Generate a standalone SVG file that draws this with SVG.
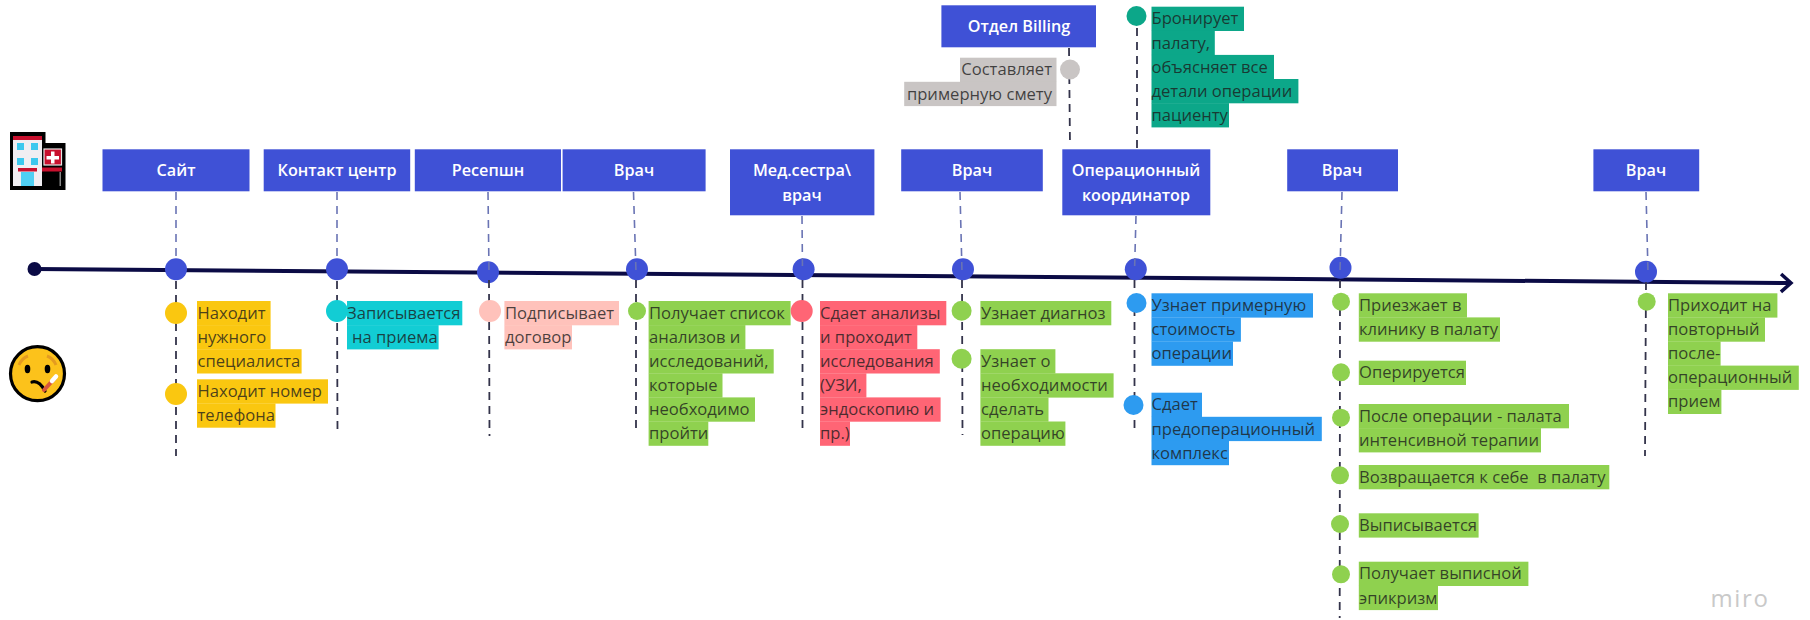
<svg xmlns="http://www.w3.org/2000/svg" width="1810" height="620" viewBox="0 0 1810 620">
<style>
text{font-family:"Open Sans","Noto Sans","Liberation Sans",sans-serif}
.box{fill:#3f51d6}
.bt{fill:#fff;font-size:16.200px;font-weight:600;text-anchor:middle}
.t{font-size:16.600px;fill:#1c1c1c;fill-opacity:.8}
.up{fill:none;stroke:#6a74b4;stroke-width:1.600;stroke-dasharray:8 6}
.dn{fill:none;stroke:#33334a;stroke-width:1.800;stroke-dasharray:8 6}
.hub{fill:#3f51d6}
.y{fill:#fac710}.c{fill:#12cdd4}.p{fill:#ffc2bb}.g{fill:#8fd14f}.r{fill:#ff6575}.b{fill:#2d9bf0}.e{fill:#0ca789}.s{fill:#c9c5c4}
</style>
<defs>
<marker id="arrow" markerUnits="userSpaceOnUse" markerWidth="16" markerHeight="22" refX="13" refY="11" orient="auto"><path d="M3 2L13 11L3 20" fill="none" stroke="#0b0b45" stroke-width="3.500"/></marker>
</defs>

<g id="icon-hospital">
<path d="M10 132H45.500V143H65.500V190H10Z" fill="#000"/>
<rect x="13" y="136" width="29" height="50" fill="#f0eef2"/>
<rect x="13" y="136" width="29" height="4" fill="#c8102e"/>
<rect x="17" y="143" width="7" height="7" fill="#3cc8ee"/><rect x="31" y="143" width="7" height="7" fill="#3cc8ee"/>
<rect x="17" y="158" width="7" height="7" fill="#3cc8ee"/><rect x="31" y="158" width="7" height="7" fill="#3cc8ee"/>
<rect x="18" y="168" width="19" height="3.500" fill="#c8102e"/>
<rect x="21" y="172" width="13" height="14" fill="#4fd0f4"/>
<rect x="44" y="149" width="17.500" height="16" fill="#c8102e" stroke="#e8e8e8" stroke-width="1.200"/>
<path d="M51 151.500h3.500v4.500h4.500v3.500h-4.500v4h-3.500v-4h-4.500v-3.500h4.500z" fill="#fff"/>
<rect x="42" y="167.500" width="20" height="4" fill="#c8102e"/>
<rect x="59.500" y="172" width="1.500" height="14" fill="#888"/>
</g>

<g id="icon-patient">
<circle cx="37.500" cy="373.700" r="27" fill="#fcc21b" stroke="#000" stroke-width="3.200"/>
<path d="M19 365Q22 358 28 356M56 365Q53 358 47 356" fill="none" stroke="#e49b20" stroke-width="3"/>
<ellipse cx="27.500" cy="369" rx="2.800" ry="4.200" fill="#000"/>
<ellipse cx="47.500" cy="369" rx="2.800" ry="4.200" fill="#000"/>
<path d="M32 382Q39 380 45 391" fill="none" stroke="#000" stroke-width="3.200" stroke-linecap="round"/>
<path d="M44 390L55 378" stroke="#d9573c" stroke-width="4" stroke-linecap="round"/>
<path d="M52 381L56 376.500" stroke="#fff" stroke-width="4.500" stroke-linecap="round"/>
</g>

<g id="timeline">
<line x1="35" y1="269" x2="1791" y2="283" stroke="#0b0b45" stroke-width="4" marker-end="url(#arrow)"/>
<circle cx="34.500" cy="269" r="7" fill="#0b0b45"/>
</g>

<g id="hubs">
<circle class="hub" cx="176" cy="269.300" r="11"/>
<circle class="hub" cx="337" cy="269.300" r="11"/>
<circle class="hub" cx="488" cy="272.300" r="11"/>
<circle class="hub" cx="637" cy="269.300" r="11"/>
<circle class="hub" cx="803.600" cy="269.300" r="11"/>
<circle class="hub" cx="963" cy="269.300" r="11"/>
<circle class="hub" cx="1135.800" cy="269.300" r="11"/>
<circle class="hub" cx="1340.500" cy="267.700" r="11"/>
<circle class="hub" cx="1646" cy="271.700" r="11"/>
</g>

<g id="connectors">
<line class="up" x1="176" y1="192" x2="176" y2="258"/>
<line class="up" x1="337" y1="192" x2="337" y2="258"/>
<line class="up" x1="488" y1="192" x2="489" y2="272"/>
<line class="up" x1="633.500" y1="192" x2="636" y2="272"/>
<line class="up" x1="802" y1="216" x2="802.500" y2="272"/>
<line class="up" x1="960" y1="192" x2="962" y2="272"/>
<line class="up" x1="1136" y1="216" x2="1134.500" y2="272"/>
<line class="up" x1="1342" y1="192" x2="1340" y2="272"/>
<line class="up" x1="1646" y1="192" x2="1648" y2="272"/>
<line class="dn" x1="176" y1="281" x2="176" y2="456"/>
<line class="dn" x1="337" y1="281" x2="337.500" y2="434"/>
<line class="dn" x1="489" y1="280" x2="489.500" y2="436"/>
<line class="dn" x1="636" y1="280" x2="636" y2="433"/>
<line class="dn" x1="802.500" y1="280" x2="802.500" y2="433"/>
<line class="dn" x1="962" y1="280" x2="962.500" y2="435"/>
<line class="dn" x1="1134.500" y1="280" x2="1134.500" y2="433"/>
<line class="dn" x1="1340" y1="280" x2="1339.700" y2="618"/>
<line class="dn" x1="1646" y1="282" x2="1645" y2="456"/>
<line class="dn" x1="1069" y1="48" x2="1070" y2="146"/>
<line class="dn" x1="1137" y1="28" x2="1137" y2="153"/>
</g>

<g id="role-site"><rect class="box" x="102.500" y="149.300" width="147" height="42"/><text class="bt" x="176" y="176">Сайт</text></g>
<g id="role-contact"><rect class="box" x="263.700" y="149.300" width="146.500" height="42"/><text class="bt" x="337" y="176">Контакт центр</text></g>
<g id="role-reception"><rect class="box" x="414.800" y="149.300" width="146.200" height="42"/><text class="bt" x="488" y="176">Ресепшн</text></g>
<g id="role-doctor-1"><rect class="box" x="562.600" y="149.300" width="143" height="42"/><text class="bt" x="634" y="176">Врач</text></g>
<g id="role-nurse"><rect class="box" x="730" y="149.300" width="144.400" height="66"/><text class="bt" x="802" y="176"><tspan x="802">Мед.сестра\</tspan><tspan x="802" dy="24.500">врач</tspan></text></g>
<g id="role-doctor-2"><rect class="box" x="901.200" y="149.300" width="141.600" height="42"/><text class="bt" x="972" y="176">Врач</text></g>
<g id="role-coordinator"><rect class="box" x="1062.300" y="149.300" width="148" height="66"/><text class="bt" x="1136" y="176"><tspan x="1136">Операционный</tspan><tspan x="1136" dy="24.500">координатор</tspan></text></g>
<g id="role-doctor-3"><rect class="box" x="1287.200" y="149.300" width="110.800" height="42"/><text class="bt" x="1342" y="176">Врач</text></g>
<g id="role-doctor-4"><rect class="box" x="1593.400" y="149.300" width="105.800" height="42"/><text class="bt" x="1646" y="176">Врач</text></g>
<g id="role-billing"><rect class="box" x="941.400" y="5.300" width="154.600" height="42"/><text class="bt" x="1019" y="32">Отдел Billing</text></g>

<g id="step-find-specialist"><circle class="y" cx="176" cy="313" r="11"/>
<rect class="y" x="197" y="301" width="73.600" height="24.300"/><rect class="y" x="197" y="325.100" width="73.600" height="24.300"/><rect class="y" x="197" y="349.200" width="104.600" height="24.300"/>
<text class="t" y="318.700"><tspan x="197.500">Находит</tspan><tspan x="197.500" dy="24.100">нужного</tspan><tspan x="197.500" dy="24.100">специалиста</tspan></text></g>
<g id="step-find-phone"><circle class="y" cx="176" cy="394" r="11"/>
<rect class="y" x="197" y="379.300" width="131" height="24.300"/><rect class="y" x="197" y="403.400" width="78.500" height="24.300"/>
<text class="t" y="397"><tspan x="197.500">Находит номер</tspan><tspan x="197.500" dy="24.100">телефона</tspan></text></g>
<g id="step-book"><rect class="c" x="347" y="301" width="115.300" height="24.300"/><rect class="c" x="347" y="325.100" width="91.600" height="24.300"/><circle class="c" cx="337" cy="311" r="11"/>
<text class="t" y="318.700"><tspan x="347">Записывается</tspan><tspan x="352" dy="24.100">на приема</tspan></text></g>
<g id="step-contract"><circle class="p" cx="490" cy="311" r="11"/>
<rect class="p" x="504.400" y="301" width="114.600" height="24.300"/><rect class="p" x="504.400" y="325.100" width="67.600" height="24.300"/>
<text class="t" y="318.700"><tspan x="505">Подписывает</tspan><tspan x="505" dy="24.100">договор</tspan></text></g>
<g id="step-get-list"><circle class="g" cx="637" cy="311" r="9"/>
<rect class="g" x="648.600" y="301" width="142" height="24.300"/><rect class="g" x="648.600" y="325.100" width="96.800" height="24.300"/><rect class="g" x="648.600" y="349.200" width="125.100" height="24.300"/><rect class="g" x="648.600" y="373.300" width="73.900" height="24.300"/><rect class="g" x="648.600" y="397.400" width="106.400" height="24.300"/><rect class="g" x="648.600" y="421.500" width="59.700" height="24.300"/>
<text class="t" y="318.700"><tspan x="649">Получает список</tspan><tspan x="649" dy="24.100">анализов и</tspan><tspan x="649" dy="24.100">исследований,</tspan><tspan x="649" dy="24.100">которые</tspan><tspan x="649" dy="24.100">необходимо</tspan><tspan x="649" dy="24.100">пройти</tspan></text></g>
<g id="step-tests"><circle class="r" cx="801.700" cy="311" r="11"/>
<rect class="r" x="820" y="301" width="126.300" height="24.300"/><rect class="r" x="820" y="325.100" width="97.300" height="24.300"/><rect class="r" x="820" y="349.200" width="119.800" height="24.300"/><rect class="r" x="820" y="373.300" width="46.400" height="24.300"/><rect class="r" x="820" y="397.400" width="120.600" height="24.300"/><rect class="r" x="820" y="421.500" width="30" height="24.300"/>
<text class="t" y="318.700"><tspan x="820">Сдает анализы</tspan><tspan x="820" dy="24.100">и проходит</tspan><tspan x="820" dy="24.100">исследования</tspan><tspan x="820" dy="24.100">(УЗИ,</tspan><tspan x="820" dy="24.100">эндоскопию и</tspan><tspan x="820" dy="24.100">пр.)</tspan></text></g>
<g id="step-diagnosis"><circle class="g" cx="961.600" cy="310.700" r="10"/>
<rect class="g" x="980.400" y="301" width="130.900" height="24.300"/>
<text class="t" x="981" y="318.700">Узнает диагноз</text></g>
<g id="step-need-surgery"><circle class="g" cx="961.600" cy="358.700" r="10"/>
<rect class="g" x="980.400" y="349.200" width="75" height="24.300"/><rect class="g" x="980.400" y="373.300" width="133.200" height="24.300"/><rect class="g" x="980.400" y="397.400" width="68.100" height="24.300"/><rect class="g" x="980.400" y="421.500" width="85" height="24.300"/>
<text class="t" y="366.900"><tspan x="981">Узнает о</tspan><tspan x="981" dy="24.100">необходимости</tspan><tspan x="981" dy="24.100">сделать</tspan><tspan x="981" dy="24.100">операцию</tspan></text></g>
<g id="step-estimate"><circle class="s" cx="1070" cy="69.500" r="10"/>
<rect class="s" x="960" y="57.700" width="96.500" height="24.300"/><rect class="s" x="904.200" y="81.800" width="152.300" height="24.300"/>
<text class="t" y="75.400" text-anchor="end"><tspan x="1052">Составляет</tspan><tspan x="1052" dy="24.100">примерную смету</tspan></text></g>
<g id="step-reserve"><circle class="e" cx="1136.500" cy="16" r="10"/>
<rect class="e" x="1151.500" y="6.700" width="92.500" height="24.300"/><rect class="e" x="1151.500" y="30.800" width="63.300" height="24.300"/><rect class="e" x="1151.500" y="54.900" width="122.500" height="24.300"/><rect class="e" x="1151.500" y="79" width="146.900" height="24.300"/><rect class="e" x="1151.500" y="103.100" width="77.500" height="24.300"/>
<text class="t" y="24.400"><tspan x="1151.500">Бронирует</tspan><tspan x="1151.500" dy="24.100">палату,</tspan><tspan x="1151.500" dy="24.100">объясняет все</tspan><tspan x="1151.500" dy="24.100">детали операции</tspan><tspan x="1151.500" dy="24.100">пациенту</tspan></text></g>
<g id="step-learn-cost"><circle class="b" cx="1136.500" cy="303" r="10"/>
<rect class="b" x="1151.500" y="293.300" width="161.500" height="24.300"/><rect class="b" x="1151.500" y="317.400" width="89.400" height="24.300"/><rect class="b" x="1151.500" y="341.500" width="81.500" height="24.300"/>
<text class="t" y="311"><tspan x="1151.500">Узнает примерную</tspan><tspan x="1151.500" dy="24.100">стоимость</tspan><tspan x="1151.500" dy="24.100">операции</tspan></text></g>
<g id="step-preop"><circle class="b" cx="1133.500" cy="405" r="10"/>
<rect class="b" x="1151.500" y="392.700" width="50.500" height="24.300"/><rect class="b" x="1151.500" y="416.800" width="170.300" height="24.300"/><rect class="b" x="1151.500" y="440.900" width="77.500" height="24.300"/>
<text class="t" y="410.400"><tspan x="1151.500">Сдает</tspan><tspan x="1151.500" dy="24.100">предоперационный</tspan><tspan x="1151.500" dy="24.100">комплекс</tspan></text></g>
<g id="step-arrive"><circle class="g" cx="1341" cy="301.700" r="9"/>
<rect class="g" x="1358.800" y="293.300" width="108.200" height="24.300"/><rect class="g" x="1358.800" y="317.400" width="141.200" height="24.300"/>
<text class="t" y="311"><tspan x="1359">Приезжает в</tspan><tspan x="1359" dy="24.100">клинику в палату</tspan></text></g>
<g id="step-surgery"><circle class="g" cx="1341" cy="372.300" r="9"/>
<rect class="g" x="1358.800" y="360.700" width="107.200" height="24.300"/>
<text class="t" x="1359" y="378.400">Оперируется</text></g>
<g id="step-icu"><circle class="g" cx="1341" cy="417.700" r="9"/>
<rect class="g" x="1358.800" y="404" width="210.200" height="24.300"/><rect class="g" x="1358.800" y="428.100" width="182.200" height="24.300"/>
<text class="t" y="421.700"><tspan x="1359">После операции - палата</tspan><tspan x="1359" dy="24.100">интенсивной терапии</tspan></text></g>
<g id="step-ward"><circle class="g" cx="1340" cy="475.300" r="9"/>
<rect class="g" x="1358.800" y="465" width="250.500" height="24.300"/>
<text class="t" x="1359" y="482.700" xml:space="preserve">Возвращается к себе  в палату</text></g>
<g id="step-discharge"><circle class="g" cx="1340" cy="524" r="9"/>
<rect class="g" x="1358.800" y="513.300" width="119.800" height="24.300"/>
<text class="t" x="1359" y="531">Выписывается</text></g>
<g id="step-summary"><circle class="g" cx="1341" cy="574.300" r="9"/>
<rect class="g" x="1358.800" y="561.700" width="169.600" height="24.300"/><rect class="g" x="1358.800" y="585.800" width="79.200" height="24.300"/>
<text class="t" y="579.400"><tspan x="1359">Получает выписной</tspan><tspan x="1359" dy="24.100">эпикризм</tspan></text></g>
<g id="step-followup"><circle class="g" cx="1646.700" cy="301.700" r="9"/>
<rect class="g" x="1668" y="293.300" width="109.400" height="24.300"/><rect class="g" x="1668" y="317.400" width="97" height="24.300"/><rect class="g" x="1668" y="341.500" width="52.600" height="24.300"/><rect class="g" x="1668" y="365.600" width="130.800" height="24.300"/><rect class="g" x="1668" y="389.700" width="53.400" height="24.300"/>
<text class="t" y="311"><tspan x="1668">Приходит на</tspan><tspan x="1668" dy="24.100">повторный</tspan><tspan x="1668" dy="24.100">после-</tspan><tspan x="1668" dy="24.100">операционный</tspan><tspan x="1668" dy="24.100">прием</tspan></text></g>
<text x="1710.500" y="607" font-size="24" fill="#c9c9c9" letter-spacing="1.600">miro</text>
</svg>
